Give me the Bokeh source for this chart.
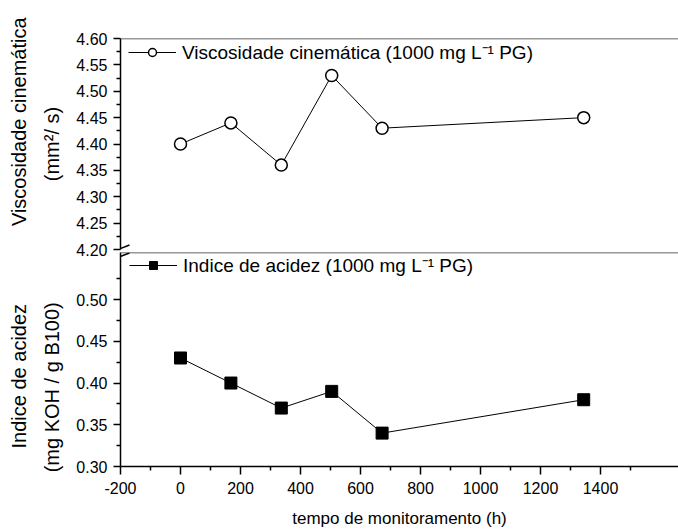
from bokeh.plotting import figure
from bokeh.layouts import column
from bokeh.models import (Range1d, FixedTicker, Span, Arrow, Legend, LegendItem,
                          PrintfTickFormatter)
from bokeh.embed import file_html
from bokeh.resources import INLINE

# ---------------- data ----------------
hours = [0, 168, 336, 504, 672, 1344]
viscosity = [4.40, 4.44, 4.36, 4.53, 4.43, 4.45]
acidity = [0.43, 0.40, 0.37, 0.39, 0.34, 0.38]

x_ticks = [-200, 0, 200, 400, 600, 800, 1000, 1200, 1400]
x_minor = [-100, 100, 300, 500, 700, 900, 1100, 1300, 1500]
visc_ticks = [4.20, 4.25, 4.30, 4.35, 4.40, 4.45, 4.50, 4.55, 4.60]
visc_minor = [4.225, 4.275, 4.325, 4.375, 4.425, 4.475, 4.525, 4.575]
acid_ticks = [0.30, 0.35, 0.40, 0.45, 0.50]
acid_minor = [0.325, 0.375, 0.425, 0.475, 0.525]

visc_label = "Viscosidade cinemática (1000 mg L\u207b\u00b9 PG)"
acid_label = "Indice de acidez (1000 mg L\u207b\u00b9 PG)"

NB = "\u00a0"
visc_axis_title = NB * 8 + "Viscosidade cinemática\n(mm\u00b2/ s)"
acid_axis_title = "Indice de acidez" + NB * 6 + "\n(mg KOH / g B100)" + NB * 10
x_axis_title = "tempo de monitoramento (h)"

FONT = "Liberation Sans"
X_RANGE = (-200, 1660)
VISC_RANGE = (4.20, 4.60)
ACID_RANGE = (0.30, 0.5564)
EXTRA_BOTTOM = 30   # extra canvas of the top panel hidden under the lower one
EXTRA_TOP = 12      # extra canvas of the lower panel above its frame
GAP = 3             # gap between the two frames


def style_axis(ax):
    ax.axis_line_width = 1.5
    ax.axis_line_color = "black"
    ax.major_tick_line_width = 1.5
    ax.minor_tick_line_width = 1.5
    ax.major_tick_line_color = "black"
    ax.minor_tick_line_color = "black"
    ax.major_tick_in = 0
    ax.major_tick_out = 7
    ax.minor_tick_in = 0
    ax.minor_tick_out = 4
    ax.major_label_text_font = FONT
    ax.major_label_text_font_size = "16px"
    ax.major_label_text_color = "black"
    ax.major_label_standoff = 6
    ax.axis_label_text_font = FONT
    ax.axis_label_text_font_style = "normal"
    ax.axis_label_text_font_size = "20px"
    ax.axis_label_text_color = "black"
    ax.axis_label_text_line_height = 1.5
    ax.axis_label_standoff = 10


def style_legend(leg):
    leg.border_line_color = None
    leg.background_fill_alpha = 0
    leg.glyph_width = 48
    leg.glyph_height = 20
    leg.label_standoff = 6
    leg.label_text_font = FONT
    leg.label_text_font_size = "19px"
    leg.label_text_color = "black"
    leg.padding = 0
    leg.margin = 0


xspan = X_RANGE[1] - X_RANGE[0]

# ---------------- top panel ----------------
top_border_bottom = 13 + EXTRA_BOTTOM
p1 = figure(width=678, height=38 + 211 + top_border_bottom,
            x_range=Range1d(*X_RANGE), y_range=Range1d(*VISC_RANGE),
            output_backend="svg", toolbar_location=None, x_axis_location=None,
            min_border_top=38, min_border_bottom=top_border_bottom,
            min_border_left=120, min_border_right=0)
p1.grid.visible = False
p1.outline_line_color = None
p1.background_fill_color = "white"
p1.border_fill_color = "white"
style_axis(p1.yaxis[0])
p1.yaxis.ticker = FixedTicker(ticks=visc_ticks, minor_ticks=visc_minor)
p1.yaxis.formatter = PrintfTickFormatter(format="%.2f")
p1.yaxis.axis_label = visc_axis_title

l1 = p1.line(hours, viscosity, line_color="black", line_width=1)
s1 = p1.scatter(hours, viscosity, marker="circle", size=12, fill_color="white",
                line_color="black", line_width=1.5)
leg1 = Legend(items=[LegendItem(label=visc_label, renderers=[l1, s1])], location=(8, 184))
style_legend(leg1)
p1.add_layout(leg1)
p1.add_layout(Span(location=VISC_RANGE[1], dimension="width", line_color="#333333", line_width=1.5))

# break mark (upper slash)
vspan = VISC_RANGE[1] - VISC_RANGE[0]
p1.add_layout(Arrow(end=None, x_start=X_RANGE[0] - 0.0161 * xspan, y_start=VISC_RANGE[0] - 0.0117 * vspan,
                    x_end=X_RANGE[0] + 0.0161 * xspan, y_end=VISC_RANGE[0] + 0.0213 * vspan,
                    line_color="black", line_width=1.5))

# ---------------- bottom panel ----------------
p2 = figure(width=678, height=215 + 63 + EXTRA_TOP, x_range=p1.x_range, y_range=Range1d(*ACID_RANGE),
            output_backend="svg", toolbar_location=None,
            min_border_top=EXTRA_TOP, min_border_bottom=63, min_border_left=120, min_border_right=0)
p2.margin = (-(top_border_bottom + EXTRA_TOP - GAP), 0, 0, 0)
p2.grid.visible = False
p2.outline_line_color = None
p2.background_fill_alpha = 0
p2.border_fill_alpha = 0
style_axis(p2.yaxis[0])
style_axis(p2.xaxis[0])
p2.xaxis.major_tick_out = 8
p2.xaxis.major_label_standoff = 7
p2.xaxis.axis_label_text_font_size = "17px"
p2.xaxis.axis_label_standoff = 12
p2.yaxis.ticker = FixedTicker(ticks=acid_ticks, minor_ticks=acid_minor)
p2.yaxis.formatter = PrintfTickFormatter(format="%.2f")
p2.xaxis.ticker = FixedTicker(ticks=x_ticks, minor_ticks=x_minor)
p2.xaxis.formatter = PrintfTickFormatter(format="%d")
p2.yaxis.axis_label = acid_axis_title
p2.xaxis.axis_label = x_axis_title

l2 = p2.line(hours, acidity, line_color="black", line_width=1)
s2 = p2.scatter(hours, acidity, marker="square", size=12, fill_color="black",
                line_color="black", line_width=1)
leg2 = Legend(items=[LegendItem(label=acid_label, renderers=[l2, s2])], location=(9, 188))
style_legend(leg2)
p2.add_layout(leg2)
p2.add_layout(Span(location=ACID_RANGE[1], dimension="width", line_color="#333333", line_width=1.5))

# break mark (lower slash)
aspan = ACID_RANGE[1] - ACID_RANGE[0]
p2.add_layout(Arrow(end=None, x_start=X_RANGE[0] - 0.0161 * xspan, y_start=ACID_RANGE[1] - 0.0347 * aspan,
                    x_end=X_RANGE[0] + 0.0161 * xspan, y_end=ACID_RANGE[1] - 0.0023 * aspan,
                    line_color="black", line_width=1.5))

layout = column(p1, p2, spacing=0)
open("out.html", "w").write(file_html(layout, INLINE))
